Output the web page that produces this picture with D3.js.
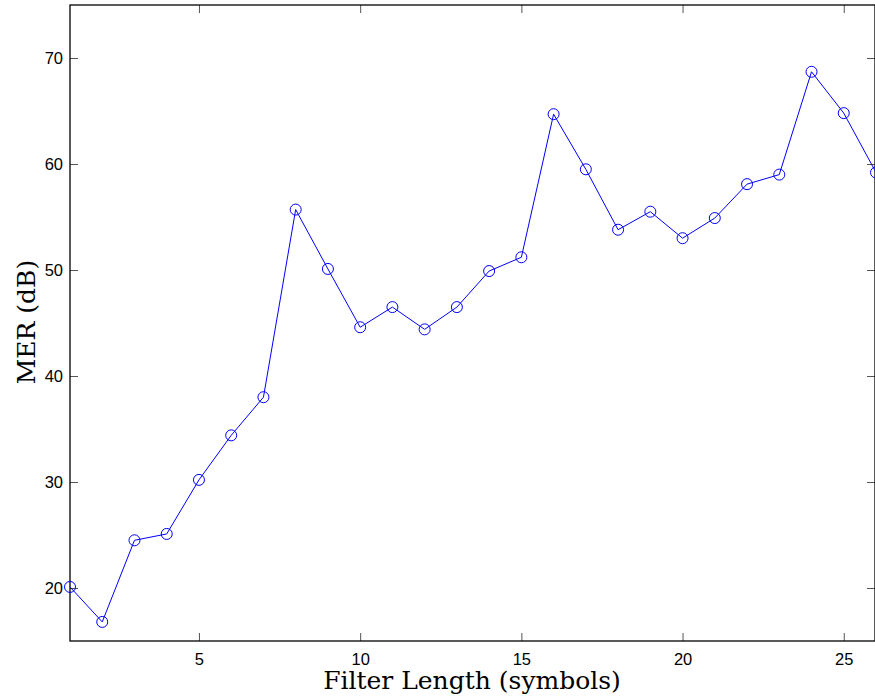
<!DOCTYPE html>
<html>
<head>
<meta charset="utf-8">
<script src="https://cdn.jsdelivr.net/npm/d3@7"></script>
<style>
  body { margin: 0; background: #fff; }
  svg { display: block; }
  .tick text { font-family: "Liberation Sans", Arial, sans-serif; font-size: 16.5px; fill: #000; }
  .lbl { font-family: "DejaVu Serif", "Liberation Serif", serif; font-size: 25px; fill: #000; }
</style>
</head>
<body>
<svg width="875" height="700"></svg>
<script>
const filterLength = [1, 2, 3, 4, 5, 6, 7, 8, 9, 10, 11, 12, 13, 14, 15, 16, 17, 18, 19, 20, 21, 22, 23, 24, 25, 26];
const merDb = [20.1, 16.8, 24.5, 25.1, 30.2, 34.4, 38.0, 55.7, 50.1, 44.6, 46.5, 44.4, 46.5,
               49.9, 51.2, 64.7, 59.5, 53.8, 55.5, 53.0, 54.9, 58.1, 59.0, 68.7, 64.8, 59.2];
const xTicks = [5, 10, 15, 20, 25];
const yTicks = [20, 30, 40, 50, 60, 70];

const plotL = 70, plotR = 876, plotT = 5, plotB = 641;
const svg = d3.select("svg");

const x = d3.scaleLinear().domain([1, 26]).range([plotL, plotR]);
const y = d3.scaleLinear().domain([15, 75]).range([plotB, plotT]);

const data = filterLength.map((d, i) => ({ x: d, y: merDb[i] }));

// inward ticks on all four sides, like matlab
svg.append("g")
  .attr("transform", `translate(0,${plotB})`)
  .call(d3.axisBottom(x).tickValues(xTicks).tickSizeInner(-8).tickSizeOuter(0).tickPadding(12))
  .call(g => g.select(".domain").remove());

svg.append("g")
  .attr("transform", `translate(${plotL},0)`)
  .call(d3.axisLeft(y).tickValues(yTicks).tickSizeInner(-8).tickSizeOuter(0).tickPadding(7))
  .call(g => g.select(".domain").remove());

svg.append("g")
  .attr("transform", `translate(0,${plotT})`)
  .call(d3.axisTop(x).tickValues(xTicks).tickSizeInner(-8).tickSizeOuter(0).tickFormat(""))
  .call(g => g.select(".domain").remove());

svg.append("g")
  .attr("transform", `translate(${plotR - 1},0)`)
  .call(d3.axisRight(y).tickValues(yTicks).tickSizeInner(-8).tickSizeOuter(0).tickFormat(""))
  .call(g => g.select(".domain").remove());

svg.selectAll(".tick line").attr("stroke", "#555");

svg.append("rect")
  .attr("x", plotL).attr("y", plotT)
  .attr("width", plotR - plotL - 1).attr("height", plotB - plotT)
  .attr("fill", "none").attr("stroke", "#000").attr("stroke-width", 1.3);

const line = d3.line().x(d => x(d.x)).y(d => y(d.y));

svg.append("path")
  .datum(data)
  .attr("d", line)
  .attr("fill", "none")
  .attr("stroke", "#0000ff")
  .attr("stroke-width", 1);

svg.append("g")
  .selectAll("circle")
  .data(data)
  .enter()
  .append("circle")
  .attr("cx", d => x(d.x))
  .attr("cy", d => y(d.y))
  .attr("r", 5.5)
  .attr("fill", "none")
  .attr("stroke", "#0000ff")
  .attr("stroke-width", 1);

svg.append("text")
  .attr("class", "lbl")
  .attr("x", 472).attr("y", 689)
  .attr("text-anchor", "middle")
  .text("Filter Length (symbols)");

svg.append("text")
  .attr("class", "lbl")
  .attr("transform", "translate(35,322) rotate(-90)")
  .attr("text-anchor", "middle")
  .text("MER (dB)");
</script>
</body>
</html>
